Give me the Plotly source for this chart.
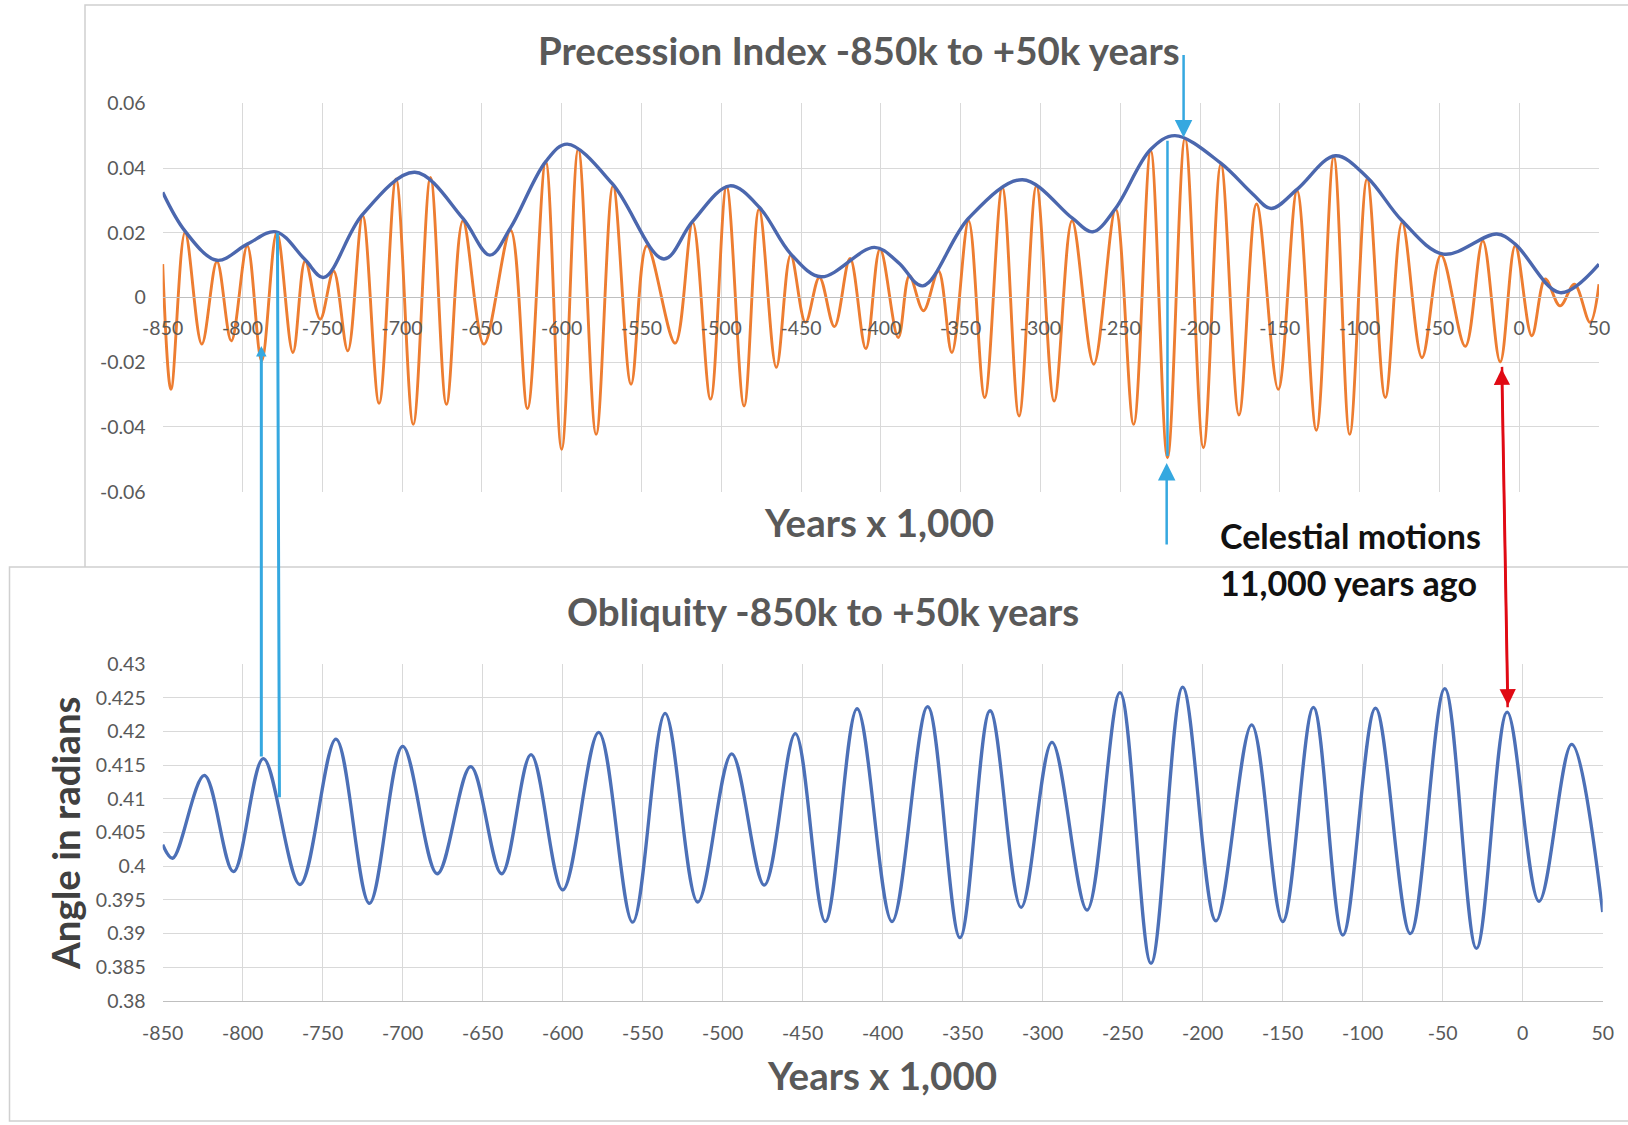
import plotly.graph_objects as go

W, H = 1628, 1125


def fx(px):
    """Horizontal pixel position -> paper fraction."""
    return px / W


def fy(py):
    """Vertical pixel position (from top) -> paper fraction."""
    return 1 - py / H


# ---------------- data ----------------
# Precession index: turning points of the oscillation (years x 1,000)
prec_years = [-850, -844.8, -836, -825.5, -816, -807, -797, -788, -778.5, -768.4,
              -760.7, -751.3, -742.9, -734, -724.7, -714.4, -703.8, -693, -682.2, -672.2,
              -661.9, -648.7, -632, -621.4, -610, -600, -589.6, -578.4, -567.8, -556.5,
              -546.6, -528.9, -517.9, -506.7, -496.7, -485.7, -476.3, -465.5, -456.5, -447.2,
              -438.5, -429.1, -419.3, -409.4, -400.5, -389.1, -382.1, -373.3, -363.9, -355.5,
              -345, -334.9, -323.9, -313.4, -302.5, -291.4, -280.2, -266.6, -252.9, -241.6,
              -230.9, -220.4, -209.4, -197.9, -186.9, -175.6, -164.6, -151, -139.2, -127.1,
              -116.2, -106.2, -95.3, -83.9, -73.4, -60.9, -49, -33.8, -22.8, -11.9,
              -2.5, 7.9, 16.3, 25.6, 34.6, 44.4, 50]
prec_index = [0.0103, -0.0284, 0.0201, -0.0144, 0.0111, -0.0134, 0.0160, -0.0196, 0.0201, -0.0170,
              0.0113, -0.0067, 0.0082, -0.0165, 0.0253, -0.0327, 0.0366, -0.0392, 0.0371, -0.0330,
              0.0237, -0.0144, 0.0208, -0.0343, 0.0420, -0.0469, 0.0459, -0.0423, 0.0345, -0.0268,
              0.0160, -0.0141, 0.0232, -0.0314, 0.0343, -0.0335, 0.0273, -0.0216, 0.0131, -0.0077,
              0.0062, -0.0090, 0.0121, -0.0158, 0.0150, -0.0124, 0.0067, -0.0041, 0.0082, -0.0170,
              0.0237, -0.0309, 0.0340, -0.0366, 0.0345, -0.0320, 0.0237, -0.0206, 0.0273, -0.0392,
              0.0454, -0.0495, 0.0492, -0.0464, 0.0412, -0.0363, 0.0289, -0.0284, 0.0330, -0.0410,
              0.0435, -0.0423, 0.0366, -0.0309, 0.0232, -0.0186, 0.0131, -0.0151, 0.0175, -0.0199,
              0.0160, -0.0118, 0.0057, -0.0026, 0.0041, -0.0077, 0.0041]

# Upper envelope of the precession index (eccentricity-scaled amplitude)
env_years = [-850, -836, -816, -797, -779, -761, -749, -725, -692, -662,
             -645, -632, -610, -596.5, -568, -536, -518, -494.6, -476, -456.5,
             -437.4, -404, -389, -373.7, -345, -311.3, -280, -267.2, -253, -231,
             -215.7, -187, -167, -155.4, -139, -115.2, -95, -73.4, -47.4, -14,
             -2.5, 25.6, 50]
env_index = [0.0325, 0.0205, 0.0115, 0.0165, 0.0203, 0.0118, 0.0062, 0.0255, 0.0387, 0.0245,
             0.0131, 0.0216, 0.0420, 0.0474, 0.0350, 0.0119, 0.0235, 0.0345, 0.0278, 0.0135,
             0.0064, 0.0155, 0.0108, 0.0036, 0.0245, 0.0364, 0.0245, 0.0203, 0.0275, 0.0457,
             0.0500, 0.0415, 0.0320, 0.0275, 0.0335, 0.0438, 0.0370, 0.0237, 0.0134, 0.0196,
             0.0165, 0.0015, 0.0103]

# Obliquity (radians): turning points
obl_years = [-850, -843.8, -824, -805.8, -787.1, -764.2, -741.7, -720.8, -700, -678.4,
             -657.5, -638.2, -619.8, -600, -577.5, -556.3, -536, -515.6, -494.4, -474,
             -454.6, -435.9, -416, -394.2, -371.9, -351.7, -332.9, -313.5, -294.2, -272.3,
             -251.7, -232.3, -212.5, -191.7, -169.4, -150, -130.8, -112.4, -92, -70.2,
             -48.7, -28.9, -9.7, 10.2, 30.6, 50]
obl_angle = [0.4032, 0.4012, 0.4135, 0.3992, 0.4160, 0.3973, 0.4189, 0.3945, 0.4178, 0.3989,
             0.4148, 0.3989, 0.4166, 0.3965, 0.4199, 0.3917, 0.4227, 0.3947, 0.4167, 0.3972,
             0.4197, 0.3918, 0.4234, 0.3918, 0.4237, 0.3894, 0.4231, 0.3939, 0.4184, 0.3935,
             0.4258, 0.3856, 0.4266, 0.3919, 0.4210, 0.3918, 0.4236, 0.3898, 0.4235, 0.3900,
             0.4264, 0.3878, 0.4229, 0.3948, 0.4181, 0.3932]

# Axis ticks
year_ticks = list(range(-850, 51, 50))
year_labels = [str(v) for v in year_ticks]
prec_ticks = [-0.06, -0.04, -0.02, 0, 0.02, 0.04, 0.06]
prec_labels = ["-0.06", "-0.04", "-0.02", "0", "0.02", "0.04", "0.06"]
obl_ticks = [0.38, 0.385, 0.39, 0.395, 0.4, 0.405, 0.41, 0.415, 0.42, 0.425, 0.43]
obl_labels = ["0.38", "0.385", "0.39", "0.395", "0.4", "0.405", "0.41", "0.415", "0.42", "0.425", "0.43"]

# ---------------- styling ----------------
ORANGE = "#ED7D31"
ENV_BLUE = "#4B67AE"
OBL_BLUE = "#4C70B7"
CYAN = "#35A8E0"
RED = "#E00A14"
GRID = "#D9D9D9"
TICK_GRAY = "#595959"
FONT = "Lato"

fig = go.Figure()

fig.add_trace(go.Scatter(
    x=prec_years, y=prec_index, mode="lines",
    line=dict(color=ORANGE, width=2.9, shape="spline", smoothing=1.0),
    xaxis="x", yaxis="y", name="Precession index"))
fig.add_trace(go.Scatter(
    x=env_years, y=env_index, mode="lines",
    line=dict(color=ENV_BLUE, width=3.4, shape="spline", smoothing=1.0),
    xaxis="x", yaxis="y", name="Envelope"))
fig.add_trace(go.Scatter(
    x=obl_years, y=obl_angle, mode="lines",
    line=dict(color=OBL_BLUE, width=3.3, shape="spline", smoothing=1.0),
    xaxis="x2", yaxis="y2", name="Obliquity"))

tickfont = dict(family=FONT, size=19.5, color=TICK_GRAY)

# plot areas (pixels)
TOP_L, TOP_R, TOP_T, TOP_B = 162.7, 1599.0, 103.3, 491.7
TOP_ZERO = 296.7
BOT_L, BOT_R, BOT_T, BOT_B = 162.7, 1602.7, 664.3, 1001.0

common = dict(showgrid=True, gridcolor=GRID, gridwidth=1, zeroline=False,
              ticks="", tickfont=tickfont, automargin=False, tickmode="array")

fig.update_layout(
    width=W, height=H, autosize=False,
    margin=dict(l=0, r=0, t=0, b=0, autoexpand=False),
    paper_bgcolor="white", plot_bgcolor="rgba(0,0,0,0)",
    showlegend=False, hovermode=False,
    xaxis=dict(domain=[fx(TOP_L), fx(TOP_R)], range=[-850, 50],
               anchor="free", position=fy(TOP_ZERO),
               tickvals=year_ticks, ticktext=year_labels,
               showline=True, linecolor="#BFBFBF", linewidth=1.2,
               ticklabelstandoff=14, **common),
    yaxis=dict(domain=[fy(TOP_B), fy(TOP_T)], range=[-0.06, 0.06], anchor="x",
               tickvals=prec_ticks, ticktext=prec_labels,
               showline=False, ticklabelstandoff=16, **common),
    xaxis2=dict(domain=[fx(BOT_L), fx(BOT_R)], range=[-850, 50], anchor="y2",
                tickvals=year_ticks, ticktext=year_labels,
                showline=True, linecolor="#BFBFBF", linewidth=1.2,
                ticklabelstandoff=14, **common),
    yaxis2=dict(domain=[fy(BOT_B), fy(BOT_T)], range=[0.38, 0.43], anchor="x2",
                tickvals=obl_ticks, ticktext=obl_labels,
                showline=False, ticklabelstandoff=16, **common),
)

# chart frames: the lower chart sits on top of the upper one
fig.add_shape(type="rect", xref="paper", yref="paper",
              x0=fx(85), x1=fx(1660), y0=fy(640), y1=fy(5),
              line=dict(color="#D0D0D0", width=1.5), fillcolor="white", layer="below")
fig.add_shape(type="rect", xref="paper", yref="paper",
              x0=fx(9.5), x1=fx(1660), y0=fy(1121), y1=fy(567),
              line=dict(color="#D0D0D0", width=1.5), fillcolor="white", layer="below")

title_font = dict(family=FONT, size=38.5, color=TICK_GRAY, weight="bold")


def label(text, x, y, font, xanchor="center", **kw):
    fig.add_annotation(text=text, x=fx(x), y=fy(y), xref="paper", yref="paper",
                       xanchor=xanchor, yanchor="middle",
                       showarrow=False, font=font, **kw)


label("Precession Index -850k to +50k years", 859, 50, title_font)
label("Years x 1,000", 879, 522, title_font)
label("Obliquity -850k to +50k years", 823, 611, title_font)
label("Years x 1,000", 882, 1075, title_font)
label("Angle in radians", 65, 833, dict(family=FONT, size=38.5, color="#404040", weight="bold"),
      textangle=-90)
note_font = dict(family=FONT, size=34, color="#111111", weight="bold")
label("Celestial motions", 1218, 535, note_font, xanchor="left")
label("11,000 years ago", 1218, 582, note_font, xanchor="left")


def arrow(x, y, ax, ay, color, width, head, size=1.0, xref="x", yref="y"):
    fig.add_annotation(text="", x=x, y=y, xref=xref, yref=yref,
                       showarrow=True, ax=ax, ay=ay, axref="pixel", ayref="pixel",
                       arrowhead=head, arrowsize=size, arrowwidth=width,
                       arrowcolor=color, standoff=0, startstandoff=0)


# cyan links between the two charts near -788k / -778k
arrow(-788.2, -0.0150, 0, 412, CYAN, 3, 2, 0.7)
arrow(-778.1, 0.0200, 2, 566, CYAN, 3, 0)
# cyan markers around -220k / -210k
arrow(-210.3, 0.0494, 0, -84, CYAN, 2.5, 2, 1.4)
arrow(-220.9, -0.0511, 0, 83, CYAN, 2.5, 2, 1.4)
fig.add_shape(type="line", xref="x", yref="y", x0=-220.4, x1=-220.4, y0=-0.0490, y1=0.0484,
              line=dict(color=CYAN, width=2.5))
# red double arrow at 11,000 years ago
arrow(-11.0, -0.0220, 6, 340, RED, 2.5, 2, 1.3)
arrow(-9.2, 0.4239, -6, -340, RED, 2.5, 2, 1.3, xref="x2", yref="y2")

fig.write_html("out.html")
